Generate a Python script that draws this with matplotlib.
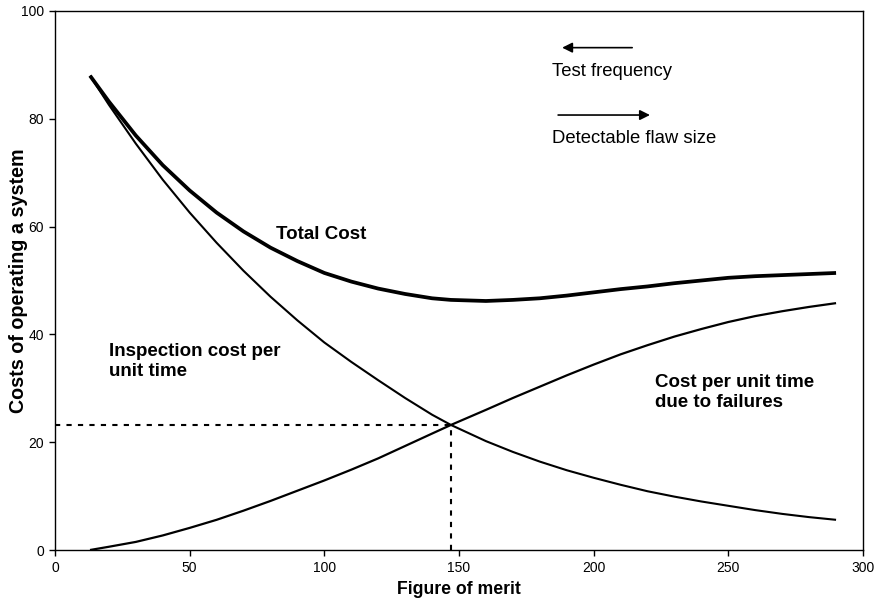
import matplotlib
matplotlib.use("Agg")
import matplotlib.pyplot as plt

plt.rcParams['font.family'] = ['Liberation Sans', 'DejaVu Sans']

# Data
merit = [13, 20, 30, 40, 50, 60, 70, 80, 90, 100, 110, 120, 130, 140, 147,
         160, 170, 180, 190, 200, 210, 220, 230, 240, 250, 260, 270, 280, 290]
inspection_cost = [88.0, 82.6, 75.4, 68.7, 62.6, 57.0, 51.8, 47.0, 42.6, 38.5,
                   34.9, 31.5, 28.2, 25.1, 23.2, 20.2, 18.2, 16.4, 14.8, 13.4,
                   12.1, 10.9, 9.9, 9.0, 8.2, 7.4, 6.7, 6.1, 5.6]
failure_cost = [0.0, 0.6, 1.5, 2.7, 4.1, 5.6, 7.3, 9.1, 11.0, 12.9,
                14.9, 17.0, 19.3, 21.6, 23.2, 26.0, 28.2, 30.3, 32.4, 34.4,
                36.3, 38.0, 39.6, 41.0, 42.3, 43.4, 44.3, 45.1, 45.8]
total_cost = [88.0, 83.2, 76.9, 71.4, 66.7, 62.6, 59.1, 56.1, 53.6, 51.4,
              49.8, 48.5, 47.5, 46.7, 46.4, 46.2, 46.4, 46.7, 47.2, 47.8,
              48.4, 48.9, 49.5, 50.0, 50.5, 50.8, 51.0, 51.2, 51.4]
optimum = (147, 23.2)
x_ticks = [0, 50, 100, 150, 200, 250, 300]
y_ticks = [0, 20, 40, 60, 80, 100]

fig = plt.figure(figsize=(8.85, 6.02), dpi=100)
ax = fig.add_axes([55/885, 52/602, 808/885, 539/602])

ax.plot(merit, inspection_cost, color='black', lw=1.5, solid_capstyle='butt')
ax.plot(merit, failure_cost, color='black', lw=1.6, solid_capstyle='butt')
ax.plot(merit, total_cost, color='black', lw=2.7, solid_capstyle='butt')

ax.plot([0, optimum[0]], [optimum[1], optimum[1]], color='black', lw=1.5,
        dashes=(2.5, 3))
ax.plot([optimum[0], optimum[0]], [0, optimum[1]], color='black', lw=1.5,
        dashes=(2.5, 3))

ax.set_xlim(0, 300)
ax.set_ylim(0, 100)
ax.set_xticks(x_ticks)
ax.set_yticks(y_ticks)
ax.tick_params(direction='out', length=4, width=1, labelsize=10, pad=4,
               top=False, right=False)
for s in ax.spines.values():
    s.set_linewidth(1.0)
    s.set_color('black')

ax.set_xlabel('Figure of merit', fontsize=12.7, fontweight='bold', labelpad=4)
ax.set_ylabel('Costs of operating a system', fontsize=14.2, fontweight='bold')
ax.yaxis.set_label_coords(-0.033, 0.5)

ax.text(82.1, 58.6, 'Total Cost', fontsize=13.5, fontweight='bold',
        ha='left', va='center')
ax.text(20.1, 35.0, 'Inspection cost per\nunit time', fontsize=13.5,
        fontweight='bold', ha='left', va='center')
ax.text(222.8, 29.2, 'Cost per unit time\ndue to failures', fontsize=13.5,
        fontweight='bold', ha='left', va='center')

ax.annotate('', xy=(188.3, 93.2), xytext=(214.3, 93.2),
            arrowprops=dict(arrowstyle='-|>', color='black', lw=1.2,
                            mutation_scale=15, shrinkA=0, shrinkB=0))
ax.annotate('', xy=(220.9, 80.7), xytext=(186.8, 80.7),
            arrowprops=dict(arrowstyle='-|>', color='black', lw=1.2,
                            mutation_scale=15, shrinkA=0, shrinkB=0))
ax.text(184.6, 88.7, 'Test frequency', fontsize=13.3, ha='left', va='center')
ax.text(184.6, 76.4, 'Detectable flaw size', fontsize=13.3, ha='left',
        va='center')

fig.savefig('out.png', dpi=100)
